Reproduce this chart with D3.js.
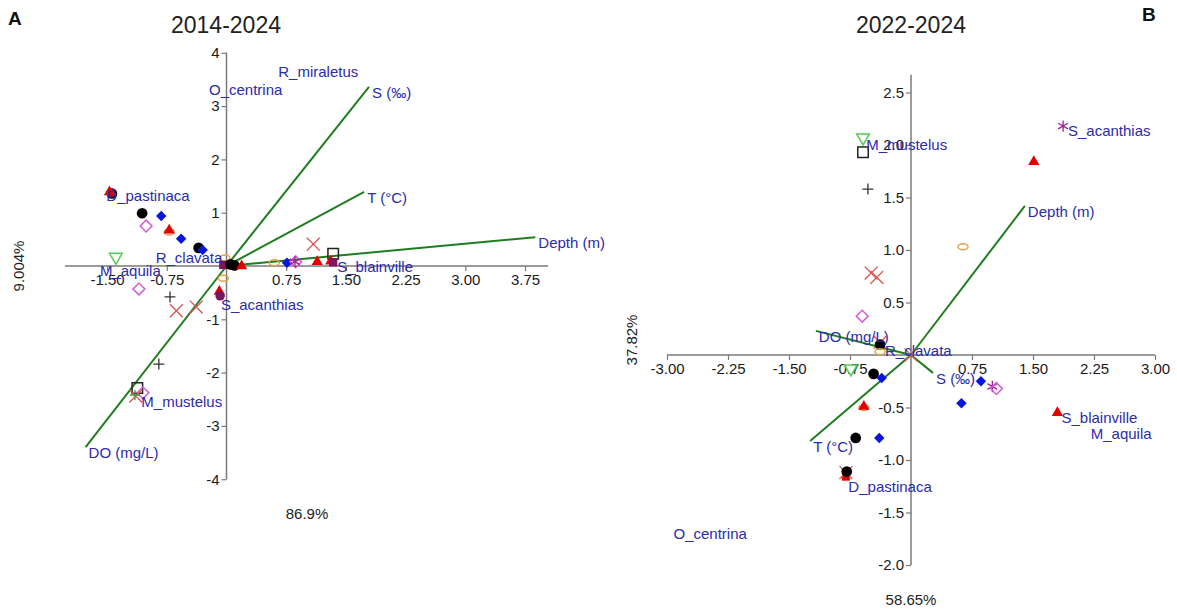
<!DOCTYPE html>
<html>
<head>
<meta charset="utf-8">
<script src="https://cdn.jsdelivr.net/npm/d3@7/dist/d3.min.js"></script>
<style>
  html, body { margin: 0; padding: 0; background: #fff; }
  svg { display: block; font-family: "Liberation Sans", Arial, sans-serif; }
</style>
</head>
<body>
<svg id="chart" width="1177" height="610"></svg>
<script>
// ---------- Panel A: 2014-2024 ----------
const titleA = "2014-2024";
const axisPctA = { x: "86.9%", y: "9.004%" };
const xTicksA = [-1.5, -0.75, 0.75, 1.5, 2.25, 3, 3.75];
const yTicksA = [4, 3, 2, 1, -1, -2, -3, -4];
const varNamesA = ["S (‰)", "T (°C)", "Depth (m)", "DO (mg/L)"];
const varXA = [1.79, 1.73, 3.88, -1.77];
const varYA = [3.36, 1.39, 0.54, -3.40];
const speciesA = ["R_miraletus", "O_centrina", "D_pastinaca", "R_clavata", "M_aquila", "S_blainville", "S_acanthias", "M_mustelus"];
const speciesXA = [0.65, -0.22, -1.51, -0.89, -1.59, 1.39, -0.07, -1.07];
const speciesYA = [3.55, 3.21, 1.22, 0.06, -0.19, -0.11, -0.83, -2.65];
// sample scores: [group, axis 1, axis 2]
const samplesA = [
  [1, -1.44, 1.36], [12, -1.45, 1.37], [4, -1.47, 1.39],
  [1, -1.06, 0.99], [2, -0.82, 0.94], [3, -1.01, 0.75],
  [5, -0.72, 0.64], [4, -0.72, 0.67], [2, -0.57, 0.51],
  [1, -0.35, 0.34], [2, -0.30, 0.30], [6, -1.39, 0.17],
  [5, -0.02, 0.15], [11, -0.04, 0.02], [1, 0.05, 0.03], [1, 0.10, 0.01], [4, 0.19, 0.0],
  [3, -1.10, -0.43], [7, -0.71, -0.58], [8, -0.63, -0.84], [8, -0.38, -0.77],
  [5, -0.04, -0.23], [4, -0.09, -0.48], [12, -0.08, -0.56],
  [5, 0.60, 0.06], [2, 0.76, 0.06], [3, 0.87, 0.08], [10, 0.86, 0.08],
  [4, 1.14, 0.08], [8, 1.09, 0.41], [9, 1.34, 0.23], [4, 1.31, 0.09], [11, 1.34, 0.07],
  [7, -0.85, -1.84], [9, -1.12, -2.29], [3, -1.05, -2.38], [8, -1.14, -2.44], [13, -1.15, -2.42]
];

// ---------- Panel B: 2022-2024 ----------
const titleB = "2022-2024";
const axisPctB = { x: "58.65%", y: "37.82%" };
const xTicksB = [-3, -2.25, -1.5, -0.75, 0.75, 1.5, 2.25, 3];
const yTicksB = [2.5, 2, 1.5, 1, 0.5, -0.5, -1, -1.5, -2];
const varNamesB = ["Depth (m)", "DO (mg/L)", "S (‰)", "T (°C)"];
const varXB = [1.40, -1.17, 0.27, -1.24];
const varYB = [1.42, 0.23, -0.17, -0.82];
const speciesB = ["S_acanthias", "M_mustelus", "R_clavata", "S_blainville", "M_aquila", "D_pastinaca", "O_centrina"];
const speciesXB = [1.93, -0.55, -0.32, 1.85, 2.21, -0.77, -2.92];
const speciesYB = [2.09, 1.95, -0.01, -0.65, -0.80, -1.30, -1.75];
const samplesB = [
  [6, -0.59, 2.07], [9, -0.59, 1.93], [7, -0.53, 1.58], [5, 0.64, 1.03],
  [8, -0.49, 0.78], [8, -0.42, 0.74], [3, -0.60, 0.37],
  [4, 1.51, 1.84], [10, 1.87, 2.18],
  [8, -0.38, 0.12], [1, -0.38, 0.10], [5, -0.38, 0.03],
  [6, -0.74, -0.13], [1, -0.46, -0.18], [2, -0.36, -0.22],
  [5, -0.58, -0.50], [4, -0.58, -0.49],
  [1, -0.68, -0.79], [2, -0.39, -0.79],
  [14, -0.80, -1.16], [8, -0.80, -1.12], [1, -0.79, -1.11],
  [2, 0.86, -0.25], [2, 0.62, -0.46], [10, 1.00, -0.30], [3, 1.05, -0.32],
  [4, 1.80, -0.55], [8, 0.0, 0.0]
];

// ---------- styling ----------
const labelBlue = "#2b2bab";
const vecGreen = "#1f7d1f";
const axisGrey = "#7a7a7a";

const symbolStyle = {
  1:  { type: "circle",   size: 90,  fill: "#000",    stroke: "none" },
  2:  { type: "diamond",  size: 55,  fill: "#0a14e0", stroke: "none" },
  3:  { type: "diamond",  size: 70,  fill: "none",    stroke: "#d35bd3" },
  4:  { type: "triangle", size: 55,  fill: "#e00000", stroke: "none" },
  5:  { type: "ellipse",  fill: "none", stroke: "#e3a04a" },
  6:  { type: "down",     size: 70,  fill: "none",    stroke: "#55cc55" },
  7:  { type: "plus",     half: 5.5, fill: "none",    stroke: "#333" },
  8:  { type: "times",    size: 110, fill: "none",    stroke: "#d9534f" },
  9:  { type: "square",   size: 110, fill: "none",    stroke: "#222" },
  10: { type: "asterisk", size: 90,  fill: "none",    stroke: "#a0209a" },
  11: { type: "square",   size: 70,  fill: "#82135e", stroke: "none" },
  12: { type: "circle",   size: 70,  fill: "#7a1560", stroke: "none" },
  13: { type: "plus",     half: 5,   fill: "none",    stroke: "#3a9a3a" },
  14: { type: "square",   size: 60,  fill: "#e00000", stroke: "none" }
};
const symbolTypes = {
  circle: d3.symbolCircle, diamond: d3.symbolSquare, triangle: d3.symbolTriangle,
  down: d3.symbolTriangle, times: d3.symbolTimes,
  square: d3.symbolSquare, asterisk: d3.symbolAsterisk
};

const svg = d3.select("#chart");

function drawPanel(p) {
  const g = svg.append("g");
  const x = d3.scaleLinear().domain(p.xDomain).range(p.xRange);
  const y = d3.scaleLinear().domain(p.yDomain).range(p.yRange);

  // axis lines through the origin
  g.append("line").attr("x1", x(p.xLine[0])).attr("x2", x(p.xLine[1]))
    .attr("y1", y(0)).attr("y2", y(0)).attr("stroke", axisGrey).attr("stroke-width", 1.5);
  g.append("line").attr("x1", x(0)).attr("x2", x(0))
    .attr("y1", y(p.yLine[0])).attr("y2", y(p.yLine[1])).attr("stroke", axisGrey).attr("stroke-width", 1.5);

  const xAxis = d3.axisBottom(x).tickValues(p.xTicks).tickFormat(d3.format(".2f"))
    .tickSize(5).tickPadding(3);
  const gx = g.append("g").attr("transform", `translate(0,${y(0)})`).call(xAxis);
  const yAxis = d3.axisLeft(y).tickValues(p.yTicks).tickFormat(p.yFormat)
    .tickSize(5).tickPadding(2);
  const gy = g.append("g").attr("transform", `translate(${x(0)},0)`).call(yAxis);
  [gx, gy].forEach(a => {
    a.select(".domain").remove();
    a.selectAll(".tick line").attr("stroke", axisGrey).attr("stroke-width", 1.2);
    a.selectAll(".tick text").attr("fill", "#1a1a1a").style("font-size", "15px")
      .style("font-family", "'Liberation Sans', Arial, sans-serif");
  });
  gx.selectAll(".tick text").text(d => d < 0 ? "-" + d3.format(".2f")(-d) : d3.format(".2f")(d));
  gy.selectAll(".tick text").text(d => d < 0 ? "-" + p.yFormat(-d) : p.yFormat(d));

  // environmental vectors
  p.vecNames.forEach((n, i) => {
    g.append("line").attr("x1", x(0)).attr("y1", y(0))
      .attr("x2", x(p.vecX[i])).attr("y2", y(p.vecY[i]))
      .attr("stroke", vecGreen).attr("stroke-width", 2);
  });

  // sample symbols
  p.samples.forEach(([grp, sx, sy]) => {
    const s = symbolStyle[grp];
    const cx = x(sx), cy = y(sy);
    if (s.type === "ellipse") {
      g.append("ellipse").attr("cx", cx).attr("cy", cy).attr("rx", 5).attr("ry", 3)
        .attr("fill", "none").attr("stroke", s.stroke).attr("stroke-width", 1.5);
      return;
    }
    if (s.type === "plus") {
      const h = s.half;
      g.append("path")
        .attr("d", `M${-h},0H${h}M0,${-h}V${h}`)
        .attr("transform", `translate(${cx},${cy})`)
        .attr("fill", "none").attr("stroke", s.stroke).attr("stroke-width", 1.3);
      return;
    }
    let rot = 0;
    if (s.type === "diamond") rot = 45;
    if (s.type === "down") rot = 180;
    g.append("path")
      .attr("d", d3.symbol().type(symbolTypes[s.type]).size(s.size)())
      .attr("transform", `translate(${cx},${cy}) rotate(${rot})`)
      .attr("fill", s.fill)
      .attr("stroke", s.stroke)
      .attr("stroke-width", s.type === "times" || s.type === "asterisk" ? 1.3 : 1.5);
  });

  // vector labels
  p.vecNames.forEach((n, i) => {
    g.append("text").attr("x", x(p.vecX[i]) + 3).attr("y", y(p.vecY[i]) + 11)
      .attr("fill", labelBlue).style("font-size", "15px").text(n);
  });

  // species labels
  p.species.forEach((n, i) => {
    g.append("text").attr("x", x(p.spX[i])).attr("y", y(p.spY[i]))
      .attr("fill", labelBlue).style("font-size", "15px").text(n);
  });

  // title, axis percentages, panel letter
  g.append("text").attr("x", p.titlePos[0]).attr("y", p.titlePos[1]).attr("text-anchor", "middle")
    .attr("fill", "#222").style("font-size", "23px").text(p.title);
  g.append("text").attr("x", p.xPctPos[0]).attr("y", p.xPctPos[1]).attr("text-anchor", "middle")
    .attr("fill", "#222").style("font-size", "15px").text(p.pct.x);
  g.append("text").attr("transform", `translate(${p.yPctPos[0]},${p.yPctPos[1]}) rotate(-90)`)
    .attr("text-anchor", "middle").attr("fill", "#222").style("font-size", "15px").text(p.pct.y);
  g.append("text").attr("x", p.letterPos[0]).attr("y", p.letterPos[1])
    .attr("fill", "#111").style("font-size", "19px").style("font-weight", "bold").text(p.letter);
}

drawPanel({
  letter: "A", letterPos: [8, 25],
  title: titleA, titlePos: [226, 33],
  pct: axisPctA, xPctPos: [307, 519], yPctPos: [24, 266],
  xDomain: [-1.5, 3.75], xRange: [107.1, 525],
  yDomain: [-4, 4], yRange: [479.2, 52.8],
  xLine: [-2.03, 4.04], yLine: [-4, 4],
  xTicks: xTicksA, yTicks: yTicksA, yFormat: d3.format("d"),
  vecNames: varNamesA, vecX: varXA, vecY: varYA,
  species: speciesA, spX: speciesXA, spY: speciesYA,
  samples: samplesA
});

drawPanel({
  letter: "B", letterPos: [1142, 21],
  title: titleB, titlePos: [911, 33],
  pct: axisPctB, xPctPos: [911, 605], yPctPos: [637, 340],
  xDomain: [-3, 3], xRange: [667, 1155],
  yDomain: [-2, 2.5], yRange: [565, 92.5],
  xLine: [-3, 3], yLine: [-2, 2.67],
  xTicks: xTicksB, yTicks: yTicksB, yFormat: d3.format(".1f"),
  vecNames: varNamesB, vecX: varXB, vecY: varYB,
  species: speciesB, spX: speciesXB, spY: speciesYB,
  samples: samplesB
});
</script>
</body>
</html>
